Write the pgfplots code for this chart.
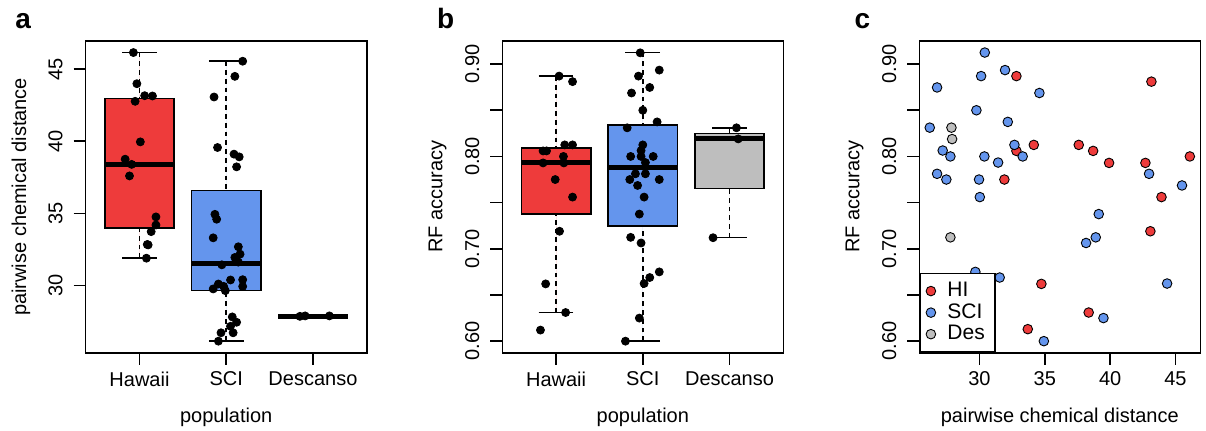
\documentclass[border=0pt]{standalone}
\usepackage{fontspec}
\setmainfont{Liberation Sans}
\usepackage{pgfplots}
\usepgfplotslibrary{statistics}
\pgfplotsset{compat=1.18}
\definecolor{hired}{HTML}{EE3B3B}
\definecolor{sciblue}{HTML}{6495ED}
\definecolor{desgray}{HTML}{BEBEBE}

\pgfplotsset{
  /pgfplots/boxplot/draw/lower whisker/.code={%
    \draw[dash pattern=on 2.4pt off 2pt]
      (boxplot box cs:\pgfplotsboxplotvalue{lower whisker},0.5)
      -- (boxplot box cs:\pgfplotsboxplotvalue{lower quartile},0.5);
    \draw (boxplot whisker cs:\pgfplotsboxplotvalue{lower whisker},0)
      -- (boxplot whisker cs:\pgfplotsboxplotvalue{lower whisker},1);
  },
  /pgfplots/boxplot/draw/upper whisker/.code={%
    \draw[dash pattern=on 2.4pt off 2pt]
      (boxplot box cs:\pgfplotsboxplotvalue{upper whisker},0.5)
      -- (boxplot box cs:\pgfplotsboxplotvalue{upper quartile},0.5);
    \draw (boxplot whisker cs:\pgfplotsboxplotvalue{upper whisker},0)
      -- (boxplot whisker cs:\pgfplotsboxplotvalue{upper whisker},1);
  },
  rstyle/.style={
    scale only axis, width=140.5pt, height=155.85pt,
    axis line style={line width=0.8pt},
    tick align=outside, major tick length=6pt,
    tick style={line width=0.8pt, black},
    xtick pos=bottom, ytick pos=left,
    /pgf/number format/assume math mode=true,
    ticklabel style={font=\fontsize{10}{12}\selectfont},
    yticklabel style={xshift=-2pt, rotate=90, anchor=south},
    label style={font=\fontsize{11}{13}\selectfont},
    every axis y label/.style={at={(axis description cs:-0.23,0.5)}, rotate=90, anchor=center},
    every axis x label/.style={at={(axis description cs:0.5,-0.2244)}, anchor=base},
    clip=false,
  },
  rbox/.style={
    boxplot/draw direction=y,
    boxplot/box extend=0.8, boxplot/whisker extend=0.4,
    draw=black, line width=0.75pt, fill=#1,
    boxplot/every median/.style={line width=2.4pt},
  },
  dots/.style={only marks, mark=*, mark size=2.0pt, black, mark options={fill=black}},
  sdots/.style={only marks, mark=*, mark size=2.4pt, mark options={draw=black, fill=#1, line width=0.45pt}},
}

\begin{document}
\begin{tikzpicture}
\useasboundingbox (0,0) rectangle (603pt,215pt);

% ---------------- panel a ----------------
\begin{axis}[rstyle, at={(42.85pt,38.65pt)}, anchor=south west,
  xmin=0.38, xmax=3.62, ymin=25.35, ymax=46.95,
  xtick={1,2,3}, xticklabels={Hawaii,SCI,Descanso},
  ytick={30,35,40,45},
  xlabel={population}, ylabel={pairwise chemical distance}]
\addplot[rbox=hired, boxplot prepared={draw position=1, lower whisker=31.90, lower quartile=33.98, median=38.40, upper quartile=42.98, upper whisker=46.15}] coordinates {};
\addplot[rbox=sciblue, boxplot prepared={draw position=2, lower whisker=26.15, lower quartile=29.67, median=31.51, upper quartile=36.58, upper whisker=45.55}] coordinates {};
\addplot[rbox=desgray, boxplot prepared={draw position=3, lower whisker=27.88, lower quartile=27.88, median=27.88, upper quartile=27.88, upper whisker=27.88}] coordinates {};
\addplot[dots] table {
x y
0.93 46.15
0.97 43.99
1.06 43.16
1.15 43.14
0.95 42.77
1.01 39.96
0.835 38.76
0.91 38.40
0.885 37.60
1.19 34.76
1.19 34.20
1.135 33.74
1.10 32.82
1.09 32.85
1.08 31.90
};
\addplot[dots] table {
x y
2.19 45.55
2.10 44.50
1.86 43.07
1.90 39.57
2.09 39.11
2.15 38.92
2.12 38.23
1.87 34.94
1.89 34.60
1.85 33.31
2.14 32.69
2.16 32.18
2.10 31.95
2.14 31.63
1.95 31.44
2.05 30.39
1.91 30.11
2.19 30.41
2.19 29.94
1.97 29.95
1.85 29.77
1.99 29.65
2.07 27.83
2.12 27.46
2.05 27.18
2.08 26.73
1.94 26.73
1.91 26.15
};
\addplot[dots] table {
x y
2.85 27.87
2.91 27.90
3.19 27.90
};
\end{axis}

% ---------------- panel b ----------------
\begin{axis}[rstyle, at={(251.15pt,38.65pt)}, anchor=south west,
  xmin=0.38, xmax=3.62, ymin=0.5875, ymax=0.925,
  xtick={1,2,3}, xticklabels={Hawaii,SCI,Descanso},
  ytick={0.60,0.65,0.70,0.75,0.80,0.85,0.90},
  yticklabels={0.60,,0.70,,0.80,,0.90},
  xlabel={population}, ylabel={RF accuracy}]
\addplot[rbox=hired, boxplot prepared={draw position=1, lower whisker=0.631, lower quartile=0.7376, median=0.7937, upper quartile=0.8093, upper whisker=0.887}] coordinates {};
\addplot[rbox=sciblue, boxplot prepared={draw position=2, lower whisker=0.600, lower quartile=0.7246, median=0.7877, upper quartile=0.834, upper whisker=0.9125}] coordinates {};
\addplot[rbox=desgray, boxplot prepared={draw position=3, lower whisker=0.712, lower quartile=0.7653, median=0.819, upper quartile=0.8247, upper whisker=0.831}] coordinates {};
\addplot[dots] table {
x y
1.035 0.887
1.19 0.881
0.85 0.806
0.89 0.806
1.10 0.8125
1.19 0.8125
1.085 0.800
0.85 0.793
1.09 0.793
0.99 0.775
1.19 0.756
1.04 0.719
0.88 0.662
1.11 0.631
0.82 0.612
};
\addplot[dots] table {
x y
1.97 0.9122
2.19 0.8935
1.95 0.887
2.08 0.8747
1.87 0.8687
2.00 0.850
2.165 0.8374
1.82 0.831
2.00 0.8125
1.98 0.8064
1.86 0.800
1.98 0.800
2.12 0.800
2.03 0.7934
1.915 0.7812
2.03 0.7812
1.85 0.775
2.19 0.775
1.94 0.7686
2.015 0.756
1.96 0.7376
1.86 0.7124
1.98 0.7063
2.19 0.675
2.08 0.6689
2.015 0.6624
1.96 0.625
1.80 0.600
};
\addplot[dots] table {
x y
3.08 0.831
3.10 0.819
2.81 0.712
};
\end{axis}

% ---------------- panel c ----------------
\begin{axis}[rstyle, at={(459.65pt,38.65pt)}, anchor=south west,
  xmin=25.40, xmax=46.90, ymin=0.5875, ymax=0.925,
  xtick={30,35,40,45},
  ytick={0.60,0.65,0.70,0.75,0.80,0.85,0.90},
  yticklabels={0.60,,0.70,,0.80,,0.90},
  xlabel={pairwise chemical distance}, ylabel={RF accuracy},
  legend image code/.code={\draw[mark repeat=2,mark phase=2,#1] plot coordinates {(0cm,0cm) (0.12cm,0cm) (0.24cm,0cm)}; \path[draw=none] (0.34cm,0cm);},
  legend cell align=left,
  legend style={at={(0,0)}, anchor=south west, draw=black, line width=0.8pt, fill=white,
    font=\fontsize{10.5}{10.5}\selectfont, inner xsep=3pt, inner ysep=2.5pt, row sep=-2pt}]
\addplot[sdots=hired] table {
x y
32.83 0.887
43.16 0.881
34.16 0.8125
32.83 0.806
37.60 0.8125
38.70 0.806
39.92 0.793
42.70 0.793
46.10 0.800
31.91 0.775
43.93 0.756
43.08 0.719
34.74 0.662
38.36 0.631
33.70 0.613
};
\addlegendentry{HI}
\addplot[sdots=sciblue] table {
x y
30.41 0.9125
31.96 0.8935
30.13 0.887
26.76 0.8747
34.59 0.8687
29.77 0.850
32.17 0.8374
26.20 0.8312
32.68 0.8125
27.19 0.8064
27.78 0.800
30.38 0.800
33.31 0.800
31.43 0.7934
26.76 0.7812
27.47 0.775
29.97 0.775
42.98 0.7812
45.50 0.7686
30.03 0.756
39.13 0.7376
38.90 0.7124
38.16 0.7063
29.69 0.675
31.55 0.6689
44.36 0.6624
39.49 0.625
34.93 0.600
};
\addlegendentry{SCI}
\addplot[sdots=desgray] table {
x y
27.86 0.8312
27.91 0.8188
27.78 0.7124
};
\addlegendentry{Des}
\end{axis}

\node[anchor=base west, font=\fontsize{14}{16}\selectfont\bfseries, inner sep=0pt] at (7.5pt,200.75pt) {a};
\node[anchor=base west, font=\fontsize{14}{16}\selectfont\bfseries, inner sep=0pt] at (218.35pt,200.75pt) {b};
\node[anchor=base west, font=\fontsize{14}{16}\selectfont\bfseries, inner sep=0pt] at (427.15pt,200.75pt) {c};
\end{tikzpicture}
\end{document}
